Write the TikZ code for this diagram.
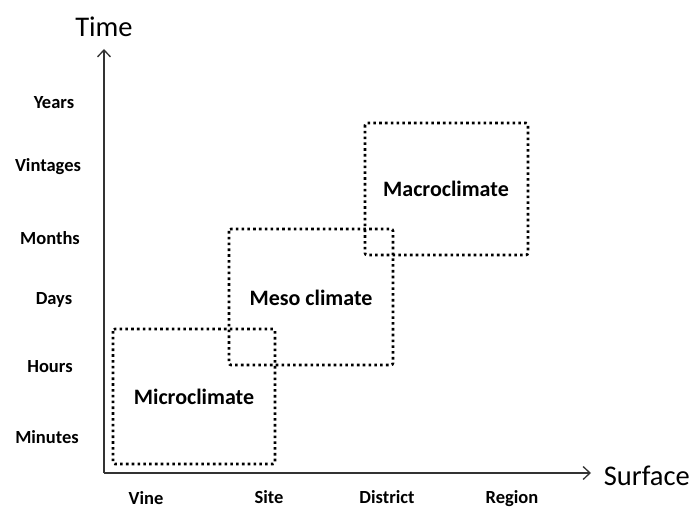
\documentclass[tikz,border=0pt]{standalone}
\usepackage{fontspec}
\setmainfont{Carlito}
\usetikzlibrary{arrows.meta}
\tikzset{
  axis/.style={draw=black!80, line width=1.6bp, -{Straight Barb[length=7bp,width=13bp,line width=1.3bp]}},
  zone/.style={draw=black, line width=2.6bp, dash pattern=on 2.6bp off 3.2bp, rounded corners=2bp, line cap=butt},
  zonelabel/.style={font=\fontsize{22bp}{26bp}\selectfont\bfseries},
  ticklabel/.style={font=\fontsize{18.5bp}{22bp}\selectfont\bfseries},
  axislabel/.style={font=\fontsize{28.5bp}{33bp}\selectfont},
}
\begin{document}
\begin{tikzpicture}[x=1bp,y=-1bp]
\useasboundingbox (0,0) rectangle (692,509);
% axes
\coordinate (origin) at (104,473);
\coordinate (ytip) at (104,49);
\coordinate (xtip) at (591,473);
\draw[axis] (origin) -- (ytip);
\draw[axis] (origin) -- (xtip);
\node[axislabel] (time) at (104,27) {Time};
\node[axislabel, anchor=east, inner sep=0pt] (surface) at (690,476) {Surface};
% time ticks
\node[ticklabel] (years) at (54,103) {Years};
\node[ticklabel] (vintages) at (48,167) {Vintages};
\node[ticklabel] (months) at (50,238) {Months};
\node[ticklabel] (days) at (54,300) {Days};
\node[ticklabel] (hours) at (50,367) {Hours};
\node[ticklabel] (minutes) at (47,437) {Minutes};
% surface ticks
\node[ticklabel, anchor=base, inner sep=0pt] (vine) at (146,504) {Vine};
\node[ticklabel, anchor=base, inner sep=0pt] (site) at (269,503.5) {Site};
\node[ticklabel, anchor=base, inner sep=0pt] (district) at (387,503.5) {District};
\node[ticklabel, anchor=base, inner sep=0pt] (region) at (512,503) {Region};
% zones
\draw[zone] (113,329) rectangle (275,464);
\draw[zone] (229,229) rectangle (393,365);
\draw[zone] (365,123) rectangle (528,255);
\node[zonelabel] (micro) at (194,397) {Microclimate};
\node[zonelabel] (meso) at (311,298) {Meso climate};
\node[zonelabel] (macro) at (446,189) {Macroclimate};
\end{tikzpicture}
\end{document}
